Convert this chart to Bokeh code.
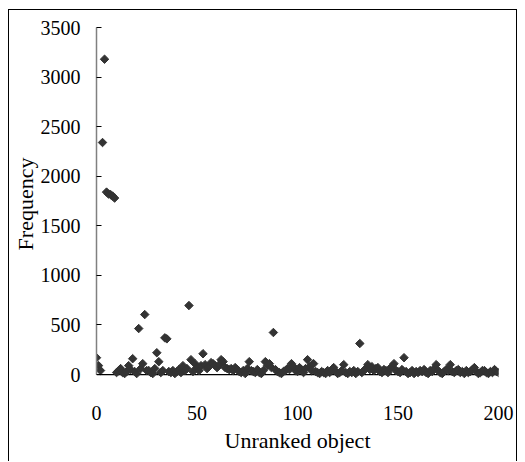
from bokeh.plotting import figure
from bokeh.models import Range1d, FixedTicker, Span, ColumnDataSource
from bokeh.embed import file_html
from bokeh.resources import INLINE
import numpy as np

# ---- data ----
objects = list(range(0, 201))
frequency = [
    170, 90, 40, 2340, 3180, 1840, 1820, 1815, 1800, 1780,
    20, 40, 60, 20, 10, 30, 90, 50, 160, 30,
    10, 464, 60, 110, 605, 40, 40, 20, 10, 60,
    220, 130, 20, 40, 370, 360, 30, 20, 40, 10,
    30, 50, 20, 90, 40, 60, 696, 150, 30, 110,
    70, 40, 90, 210, 100, 60, 80, 120, 110, 90,
    70, 100, 150, 130, 70, 60, 50, 60, 40, 70,
    50, 30, 20, 40, 10, 60, 130, 40, 30, 20,
    50, 20, 10, 40, 130, 90, 110, 70, 424, 50,
    30, 20, 10, 30, 40, 60, 50, 110, 80, 40,
    30, 70, 50, 20, 60, 150, 80, 40, 110, 30,
    20, 10, 30, 20, 10, 40, 20, 50, 70, 30,
    10, 20, 40, 100, 20, 10, 30, 20, 40, 10,
    30, 313, 20, 40, 60, 100, 50, 80, 40, 60,
    70, 30, 20, 50, 40, 20, 60, 80, 110, 40,
    30, 20, 50, 170, 30, 10, 20, 40, 10, 30,
    20, 40, 30, 50, 20, 10, 40, 30, 60, 100,
    40, 20, 10, 30, 50, 40, 100, 30, 20, 40,
    50, 20, 30, 10, 40, 20, 30, 50, 70, 30,
    10, 20, 40, 40, 20, 10, 30, 20, 50, 30,
    20,
]
y_ticks = [0, 500, 1000, 1500, 2000, 2500, 3000, 3500]
x_ticks = [0, 50, 100, 150, 200]

FONT = "Liberation Serif"

p = figure(
    width=509, height=452,
    output_backend="svg", toolbar_location=None,
    x_range=Range1d(0, 200), y_range=Range1d(-60, 3500),
    min_border_left=87, min_border_right=20,
    min_border_top=17, min_border_bottom=82,
)
p.margin = (9, 0, 0, 8)
p.styles = {"border-left": "1px solid black", "border-top": "1px solid black",
            "border-right": "1px solid black"}
p.outline_line_color = None
p.grid.visible = False
p.background_fill_color = "white"
p.border_fill_color = "white"

# zero line
p.add_layout(Span(location=0, dimension="width", line_color="black",
                  line_width=1.3, level="underlay"))

src = ColumnDataSource(dict(x=objects, y=frequency))
p.scatter("x", "y", source=src, marker="square", angle=np.pi / 4, size=6,
          fill_color="#333333", line_color="#333333")

# y axis
ya = p.yaxis[0]
ya.ticker = FixedTicker(ticks=y_ticks)
ya.bounds = (0, 3500)
ya.axis_line_color = "#808080"
ya.axis_line_width = 1.5
ya.major_tick_in = 5
ya.major_tick_out = 0
ya.major_tick_line_color = "black"
ya.minor_tick_line_color = None
ya.major_label_standoff = 16
ya.major_label_text_font = FONT
ya.major_label_text_font_size = "20px"
ya.major_label_text_color = "black"
ya.axis_label = "Frequency"
ya.axis_label_text_font = FONT
ya.axis_label_text_font_size = "22px"
ya.axis_label_text_font_style = "normal"
ya.axis_label_text_color = "black"
ya.axis_label_standoff = 0

# x axis
xa = p.xaxis[0]
xa.ticker = FixedTicker(ticks=x_ticks)
xa.axis_line_color = None
xa.major_tick_line_color = None
xa.minor_tick_line_color = None
xa.major_tick_in = 0
xa.major_tick_out = 0
xa.major_label_standoff = 25
xa.major_label_text_font = FONT
xa.major_label_text_font_size = "20px"
xa.major_label_text_color = "black"
xa.axis_label = "Unranked object"
xa.axis_label_text_font = FONT
xa.axis_label_text_font_size = "22px"
xa.axis_label_text_font_style = "normal"
xa.axis_label_text_color = "black"
xa.axis_label_standoff = 5

open("out.html", "w").write(file_html(p, INLINE))
